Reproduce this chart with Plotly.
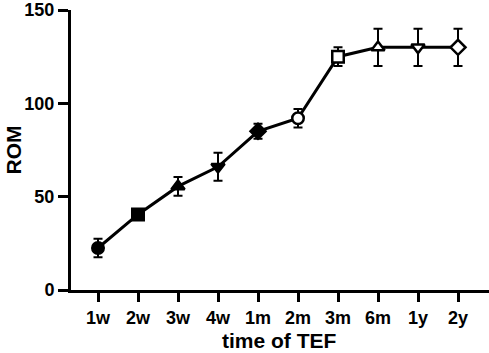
import plotly.graph_objects as go

categories = ["1w", "2w", "3w", "4w", "1m", "2m", "3m", "6m", "1y", "2y"]
rom_mean = [22.5, 40.5, 55.5, 66, 85, 92, 125, 130, 130, 130]
rom_err = [5, 2, 5, 7.5, 4, 5, 5, 10, 10, 10]
symbols = ["circle", "square", "triangle-up", "triangle-down", "diamond",
           "circle", "square", "triangle-up", "triangle-down", "diamond"]
fills = ["black"] * 5 + ["white"] * 5
y_ticks = [0, 50, 100, 150]

FONT = "Liberation Sans, Arial, sans-serif"

fig = go.Figure()
fig.add_trace(go.Scatter(
    x=list(range(len(categories))),
    y=rom_mean,
    mode="lines+markers",
    line=dict(color="black", width=3),
    marker=dict(symbol=symbols, size=11.5, color=fills,
                line=dict(color="black", width=2.5)),
    error_y=dict(type="data", array=rom_err, visible=True,
                 color="black", thickness=2, width=4.5),
    showlegend=False,
    cliponaxis=False,
))

fig.update_layout(
    width=489, height=353,
    margin=dict(l=71, r=0, t=10, b=63, autoexpand=False),
    paper_bgcolor="white", plot_bgcolor="white",
    font=dict(family=FONT, color="black"),
    xaxis=dict(
        range=[-0.675, 9.775],
        tickmode="array",
        tickvals=list(range(len(categories))),
        ticktext=categories,
        ticks="outside", ticklen=9, tickwidth=2.5, tickcolor="black",
        showline=True, linewidth=3, linecolor="black",
        showgrid=False, zeroline=False, automargin=False,
        tickfont=dict(family=FONT, size=18, color="black", weight="bold"),
    ),
    yaxis=dict(
        range=[0, 150],
        tickmode="array",
        tickvals=y_ticks,
        ticks="outside", ticklen=10, tickwidth=2.5, tickcolor="black",
        showline=True, linewidth=3, linecolor="black",
        showgrid=False, zeroline=False, automargin=False,
        tickfont=dict(family=FONT, size=18, color="black", weight="bold"),
    ),
    annotations=[
        dict(text="ROM", xref="paper", yref="paper", x=(12.5 - 71) / 418, y=0.5,
             xanchor="center", yanchor="middle", textangle=-90, showarrow=False,
             font=dict(family=FONT, size=21, color="black", weight="bold")),
        dict(text="time of TEF", xref="paper", yref="paper", x=(279 - 71) / 418,
             y=(290 - 340) / 280, xanchor="center", yanchor="middle", showarrow=False,
             font=dict(family=FONT, size=21, color="black", weight="bold")),
    ],
)

fig.write_html("out.html",
               config={"displayModeBar": False},
               post_script="document.body.style.margin='0';document.body.style.overflow='hidden';")
